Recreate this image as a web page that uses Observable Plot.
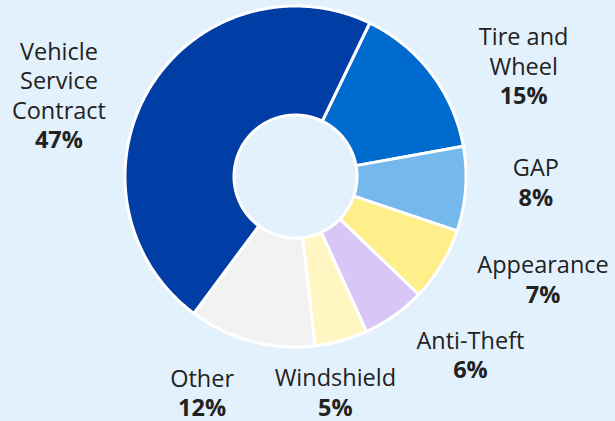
<!DOCTYPE html>
<html><head><meta charset="utf-8">
<script src="https://cdn.jsdelivr.net/npm/d3@7"></script>
<script src="https://cdn.jsdelivr.net/npm/@observablehq/plot@0.6"></script>
<style>html,body{margin:0;padding:0;background:#E3F1FC;overflow:hidden}</style>
</head><body><div id="chart"></div>
<script>
// ---- data ----
const categories = ["Tire and Wheel", "GAP", "Appearance", "Anti-Theft", "Windshield", "Other", "Vehicle Service Contract"];
const labelNames = ["Tire and\nWheel", "GAP", "Appearance", "Anti-Theft", "Windshield", "Other", "Vehicle\nService\nContract"];
const shares = [15, 8, 7, 6, 5, 12, 47];
const colors = ["#006BCF", "#74B8EC", "#FFEF8A", "#D9C6F7", "#FFF6C2", "#F2F2F2", "#003DA5"];

// ---- layout ----
const W = 615, H = 421, CX = 295, CY = 176, PX = 170.5;
const startDeg = 25.8;
const inner = 61.5 / PX;
const labelR = 245 / PX;
const labelNudge = [[33, 37], [-4, -13], [38, -25], [33, -22], [-26, -21], [-30, -21], [-27, 45]];

const total = d3.sum(shares);
let acc = startDeg * Math.PI / 180;
const slices = categories.map((c, i) => {
  const a0 = acc, a1 = acc + shares[i] / total * 2 * Math.PI;
  acc = a1;
  return {category: c, a0, a1, i};
});

const arcPts = [];
slices.forEach(s => {
  const n = Math.max(2, Math.ceil((s.a1 - s.a0) / (Math.PI / 360)));
  const pts = [];
  for (let k = 0; k <= n; k++) { const a = s.a0 + (s.a1 - s.a0) * k / n; pts.push([Math.sin(a), Math.cos(a)]); }
  for (let k = n; k >= 0; k--) { const a = s.a0 + (s.a1 - s.a0) * k / n; pts.push([inner * Math.sin(a), inner * Math.cos(a)]); }
  pts.push(pts[0]);
  pts.forEach(([x, y]) => arcPts.push({category: s.category, x, y}));
});

const labelData = slices.map(s => {
  const mid = (s.a0 + s.a1) / 2;
  const [nx, ny] = labelNudge[s.i];
  const name = labelNames[s.i];
  const nl = name.split("\n").length;
  return {
    x: labelR * Math.sin(mid) + nx / PX,
    y: labelR * Math.cos(mid) - ny / PX,
    name: name + "\n",
    pct: "\n".repeat(nl) + shares[s.i] + "%"
  };
});

const chart = Plot.plot({
  width: W, height: H,
  margin: 0,
  style: {background: "transparent", fontFamily: "'Open Sans', sans-serif", overflow: "visible"},
  x: {domain: [-CX / PX, (W - CX) / PX], range: [0, W], axis: null},
  y: {domain: [-(H - CY) / PX, CY / PX], range: [H, 0], axis: null},
  color: {domain: categories, range: colors},
  marks: [
    Plot.line(arcPts, {x: "x", y: "y", z: "category", fill: "category", stroke: "white", strokeWidth: 3, strokeLinejoin: "round"}),
    Plot.text(labelData, {x: "x", y: "y", text: "name", fontSize: 23.5, lineHeight: 1.26, lineAnchor: "middle", fill: "#222"}),
    Plot.text(labelData, {x: "x", y: "y", text: "pct", fontSize: 23.5, lineHeight: 1.26, lineAnchor: "middle", fontWeight: "bold", fill: "#222"})
  ]
});
document.getElementById("chart").appendChild(chart);
</script>
</body></html>
